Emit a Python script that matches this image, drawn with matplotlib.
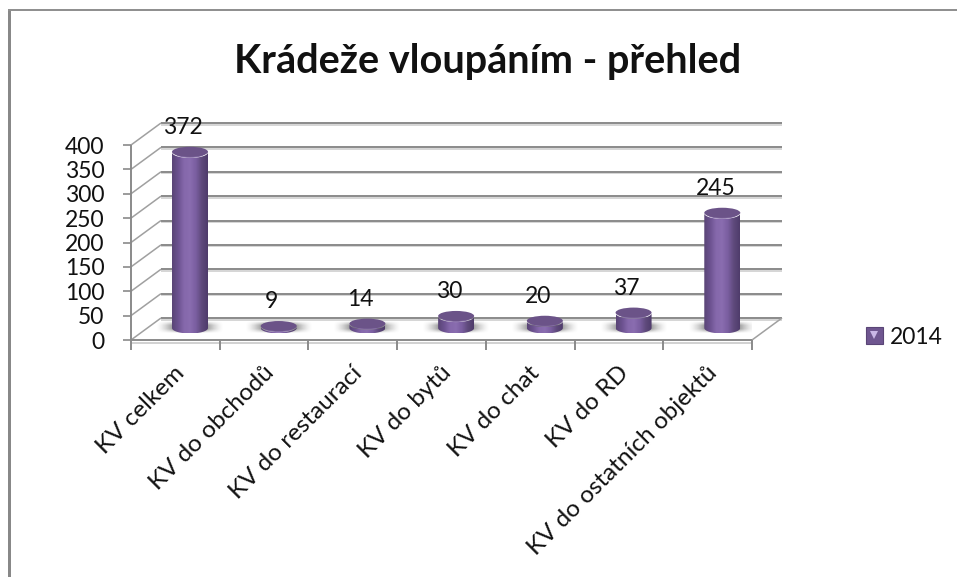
import numpy as np
import matplotlib
matplotlib.use("Agg")
import matplotlib.pyplot as plt
from matplotlib.patches import Ellipse, PathPatch, Patch
from matplotlib.path import Path
from matplotlib.lines import Line2D
from matplotlib.colors import LinearSegmentedColormap
from matplotlib.legend_handler import HandlerTuple

categories = ["KV celkem", "KV do obchodů", "KV do restaurací", "KV do bytů",
              "KV do chat", "KV do RD", "KV do ostatních objektů"]
values = [372, 9, 14, 30, 20, 37, 245]
y_ticks = [0, 50, 100, 150, 200, 250, 300, 350, 400]
series_name = "2014"
title = "Krádeže vloupáním - přehled"

W, H = 957, 577
plt.rcParams['font.family'] = ['Lato', 'DejaVu Sans']
fig = plt.figure(figsize=(W / 100, H / 100), dpi=100, facecolor='white')

L, R, B, T = 131, 752, 340, 145
pos = [L / W, 1 - B / H, (R - L) / W, (B - T) / H]
ax = fig.add_axes(pos)
ax.set_xlim(0, 7)
ax.set_ylim(0, 400)
ax.axis('off')
px_x = (R - L) / 7
px_y = (B - T) / 400
dx, dy = 30 / px_x, 22 / px_y
GRID = '#8a8a8a'
LIGHT = '#d2d2d2'
kw = dict(clip_on=False, solid_capstyle='butt')

for v in y_ticks:
    ax.plot([dx, 7 + dx], [v + dy - 1.6 / px_y] * 2, color=LIGHT, lw=1.3, zorder=1, **kw)
    ax.plot([dx, 7 + dx], [v + dy] * 2, color=GRID, lw=1.4, zorder=1.1, **kw)
    ax.plot([0, dx], [v, v + dy], color='#a0a0a0', lw=1.1, zorder=1.1, **kw)
    ax.plot([-8 / px_x, 0], [v, v], color=GRID, lw=1.2, zorder=2, **kw)
    ax.annotate(str(v), xy=(0, v), xytext=(-19, -1.5), textcoords='offset points',
                ha='right', va='center', fontsize=16.5, color='#111111', annotation_clip=False)
ax.plot([0, 0], [0, 400], color=GRID, lw=1.4, zorder=2, **kw)
ax.plot([7, 7 + dx], [0, dy], color='#a0a0a0', lw=1.1, zorder=1.1, **kw)
ax.fill_between([0, 7], [-1.5 / px_y] * 2, [-3.5 / px_y] * 2, color=LIGHT, lw=0, clip_on=False, zorder=1)
ax.plot([0, 7], [0, 0], color=GRID, lw=1.4, zorder=2, **kw)
for i in range(8):
    ax.plot([i, i], [0, -10 / px_y], color=GRID, lw=1.4, zorder=2, **kw)
for i, c in enumerate(categories):
    ax.annotate(c, xy=(i + 0.5, 0), xytext=(-1, -16), textcoords='offset points',
                rotation=45, rotation_mode='anchor', ha='right', va='top',
                fontsize=17.5, color='#111111', annotation_clip=False)

# Bars on an overlay axes sharing the plot box
ax2 = fig.add_axes(pos)
ax2.patch.set_alpha(0)
ax2.axis('off')
s = 0.48
ylo, yhi = -9 / s, (331 - T) / s
base_v = 3 / s
hw = 18 / px_x
hh = 5.5 / s
cyl = LinearSegmentedColormap.from_list('cyl', ['#5a4576', '#6c5290', '#8568ab', '#8a6db0', '#7a5ea0', '#5f4a7c', '#4f3c6b'])
xg, yg = np.meshgrid(np.linspace(-1, 1, 120), np.linspace(-1, 1, 60))
sh = np.zeros((60, 120, 4))
sh[..., :3] = 0.3
sh[..., 3] = np.clip(1.6 * (1 - np.abs(xg)) ** 1.5, 0, 0.9) * np.clip(1.4 * (1 - np.abs(yg)), 0, 1)

for i, v in enumerate(values):
    cx = i + 0.665
    ax2.imshow(sh, extent=[cx - 34 / px_x, cx + 34 / px_x, base_v - 5.5 / s, base_v + 6 / s],
               aspect='auto', zorder=3, interpolation='bilinear')
    t = np.linspace(np.pi, 2 * np.pi, 40)
    xs = cx + hw * np.cos(t)
    ys = base_v + hh * np.sin(t)
    xt = cx + hw * np.cos(t[::-1])
    yt = v + hh * np.sin(t[::-1])
    verts = np.r_[np.c_[xs, ys], np.c_[xt, yt], [[xs[0], ys[0]]]]
    im = ax2.imshow(np.linspace(0, 1, 64)[None, :], extent=[cx - hw, cx + hw, base_v - hh, v + hh],
                    aspect='auto', cmap=cyl, zorder=4, interpolation='bilinear')
    im.set_clip_path(PathPatch(Path(verts), transform=ax2.transData))
    ax2.add_patch(Ellipse((cx, v - 0.5 / s), 2 * hw * 0.85, 2 * hh * 0.9, fc='#8a72aa', ec='none', zorder=4.5))
    ax2.add_patch(Ellipse((cx, v + 0.6 / s), 2 * hw, 2 * hh * 0.92, fc='#6b5388', ec='none', zorder=5))
    ax2.annotate(str(v), xy=(cx, v + hh), xytext=(-5, 14), textcoords='offset points',
                 ha='center', va='center', fontsize=16.5, color='#111111', zorder=6,
                 annotation_clip=False)
ax2.set_xlim(0, 7)
ax2.set_ylim(ylo, yhi)

fig.text(488 / W, 1 - 62 / H, title, ha='center', va='center', fontsize=28.5, fontweight='bold', color='#111111')

# chart frame
frame = fig.add_axes([0, 0, 1, 1], zorder=-1)
frame.set_xlim(0, W)
frame.set_ylim(H, 0)
frame.axis('off')
frame.add_patch(plt.Rectangle((8, 9), 3, H - 9, fc='#888888', ec='none'))
frame.add_patch(plt.Rectangle((8, 9), W - 8, 2, fc='#909090', ec='none'))

h = (Patch(fc='#6f5690', ec='#5a4576', lw=0.8),
     Line2D([], [], marker='v', ls='none', color='#c9b6e6', ms=6, mew=0))
fig.legend([h], [series_name], handler_map={tuple: HandlerTuple(ndivide=1, pad=0)},
           loc='center left', bbox_to_anchor=(850 / W, 1 - 337 / H), frameon=False,
           fontsize=16.5, handlelength=0.72, handleheight=0.7, handletextpad=0.3,
           borderpad=0.2, labelcolor='#111111')

fig.savefig('out.png', dpi=100)
